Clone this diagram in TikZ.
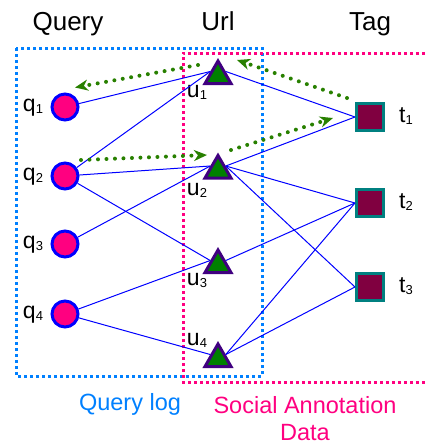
\documentclass[tikz,border=0pt]{standalone}
\usepackage{fontspec}
\setmainfont{Liberation Sans}
\usetikzlibrary{shapes.geometric,arrows.meta}

\definecolor{qfill}{RGB}{255,0,128}
\definecolor{qdraw}{RGB}{0,0,255}
\definecolor{ufill}{RGB}{0,128,0}
\definecolor{udraw}{RGB}{64,0,128}
\definecolor{tfill}{RGB}{128,0,64}
\definecolor{tdraw}{RGB}{0,128,128}
\definecolor{logblue}{RGB}{0,128,255}
\definecolor{annpink}{RGB}{255,0,128}
\definecolor{flowgreen}{RGB}{40,128,0}

\newcommand{\idx}[1]{\raisebox{-2pt}{\fontsize{13}{13}\selectfont #1}}

\begin{document}
\begin{tikzpicture}[x=1pt,y=-1pt,
  query/.style={circle,draw=qdraw,fill=qfill,line width=3pt,minimum size=26pt,inner sep=0pt},
  url/.style={regular polygon,regular polygon sides=3,draw=udraw,fill=ufill,line width=3pt,minimum size=30pt,inner sep=0pt},
  tag/.style={rectangle,draw=tdraw,fill=tfill,line width=3pt,minimum size=27pt,inner sep=0pt},
  lbl/.style={anchor=base,inner sep=0pt,font=\fontsize{23}{23}\selectfont},
  note/.style={anchor=base,inner sep=0pt,font=\fontsize{23.5}{23.5}\selectfont},
  head/.style={anchor=base,inner sep=0pt,font=\fontsize{26}{26}\selectfont},
  link/.style={draw=blue,line width=1pt},
  flow/.style={draw=flowgreen,line width=4pt,line cap=round,dash pattern=on 0pt off 8.5pt,
    -{Stealth[length=13pt,width=11pt,inset=4pt]}},
  box/.style={line width=3pt,dash pattern=on 3pt off 3pt}]
\useasboundingbox (0,0) rectangle (425,445);

\node[head] (hq) at (68,30) {Query};
\node[head] (hu) at (218,30) {Url};
\node[head] (ht) at (370,30) {Tag};

% query log and social annotation data
\draw[box,logblue] (16,48) rectangle (262,376);
\draw[box,annpink] (425,53) -- (183,53) -- (183,382) -- (425,382);

\foreach \i/\y in {1/107,2/176,3/244,4/314} {
  \node[query] (q\i) at (65,\y) {};
  \node[lbl] (ql\i) at (33,\y+4.5) {q\idx{\i}};
}
\foreach \i/\y/\b in {1/76/97,2/170.5/195,3/265/285,4/359/345} {
  \node[url] (u\i) at (218,\y) {};
  \node[lbl] (ul\i) at (197,\b) {u\idx{\i}};
}
\foreach \i/\y in {1/117,2/203,3/287} {
  \node[tag] (t\i) at (370,\y) {};
  \node[lbl] (tl\i) at (406,\y+5.5) {t\idx{\i}};
}

\foreach \a/\b in {1/1,2/1,2/2,2/3,3/2,4/3,4/4}
  \draw[link] (q\a) -- (u\b.side 1);
\foreach \a/\b in {1/1,2/1,2/2,2/3,3/2,4/2,4/3}
  \draw[link] (u\a.side 3) -- (t\b.west);

% walks
\draw[flow] ([shift={(-23,-19)}]t1.center) -- ([shift={(19,-16)}]u1.center);
\draw[flow] ([shift={(-20,-11)}]u1.center) -- ([shift={(10,-19.5)}]q1.center);
\draw[flow] ([shift={(16,-16)}]q2.center) -- ([shift={(-11,-15.5)}]u2.center);
\draw[flow] ([shift={(13,-20.5)}]u2.center) -- ([shift={(-37,1)}]t1.center);

\node[note,text=logblue] (qlog) at (130,410) {Query log};
\node[note,text=annpink] (ann1) at (305,413) {Social Annotation};
\node[note,text=annpink] (ann2) at (305,440) {Data};
\end{tikzpicture}
\end{document}
